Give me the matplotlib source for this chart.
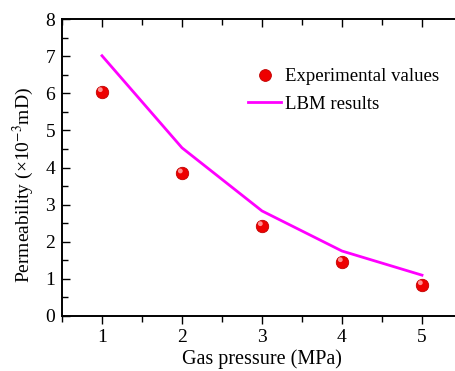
import matplotlib
matplotlib.use("Agg")
import matplotlib.pyplot as plt
from matplotlib.ticker import MultipleLocator
from matplotlib.lines import Line2D
import matplotlib.transforms as mtransforms

plt.rcParams['font.family'] = ['Liberation Serif', 'DejaVu Serif']
plt.rcParams['mathtext.fontset'] = 'stix'

pressure = [1, 2, 3, 4, 5]
experimental = [6.04, 3.85, 2.43, 1.46, 0.84]
lbm = [7.01, 4.53, 2.83, 1.75, 1.10]

W, H = 456, 371
fig = plt.figure(figsize=(W/100, H/100), dpi=100)
ax = fig.add_axes([62/W, 1-316/H, 400/W, 297/H])

ax.plot(pressure, lbm, color='#FF00FF', lw=2.0, label='LBM results', zorder=2)
ax.scatter(pressure, experimental, s=80, color='#EE0000', edgecolors='#C00000',
           linewidths=0.6, label='Experimental values', zorder=3)
# sphere highlight
hl = mtransforms.offset_copy(ax.transData, fig=fig, x=-1.2, y=1.5, units='points')
ax.scatter(pressure, experimental, s=12, color='#FF9090', edgecolors='none',
           transform=hl, zorder=4)

ax.set_xlim(0.5, 5.5)
ax.set_ylim(0, 8)
ax.xaxis.set_major_locator(MultipleLocator(1))
ax.xaxis.set_minor_locator(MultipleLocator(0.5))
ax.yaxis.set_major_locator(MultipleLocator(1))
ax.yaxis.set_minor_locator(MultipleLocator(0.5))
ax.tick_params(axis='x', which='both', direction='out', labelsize=14, pad=3)
ax.tick_params(axis='y', which='both', direction='in', labelsize=14, pad=5)
ax.tick_params(which='major', length=6, width=1)
ax.tick_params(which='minor', length=4, width=1)

ax2 = ax.twiny()
ax2.set_xlim(ax.get_xlim())
ax2.xaxis.set_major_locator(MultipleLocator(1))
ax2.xaxis.set_minor_locator(MultipleLocator(0.5))
ax2.tick_params(axis='x', which='both', direction='in', labeltop=False)
ax2.tick_params(which='major', length=6, width=1)
ax2.tick_params(which='minor', length=4, width=1)

for a in (ax, ax2):
    for spine in a.spines.values():
        spine.set_linewidth(1.2)

ax.set_xlabel('Gas pressure (MPa)', fontsize=14.5, labelpad=3)
ax.set_ylabel('Permeability (×10$^{-3}$mD)', fontsize=14)
ax.yaxis.set_label_coords(-0.065, 0.44)

handles, labels = ax.get_legend_handles_labels()
mk = Line2D([], [], ls='none', marker='o', markersize=8.5, markerfacecolor='#EE0000',
            markeredgecolor='#C00000', markeredgewidth=0.6)
leg = fig.legend([mk, handles[0]], [labels[1], labels[0]],
                 loc='upper left', bbox_to_anchor=(248/W, 1-68/H), frameon=False,
                 fontsize=13.5, handlelength=1.76, handletextpad=0.2, labelspacing=0.55,
                 borderaxespad=0, borderpad=0)

fig.savefig('out.png', dpi=100)
